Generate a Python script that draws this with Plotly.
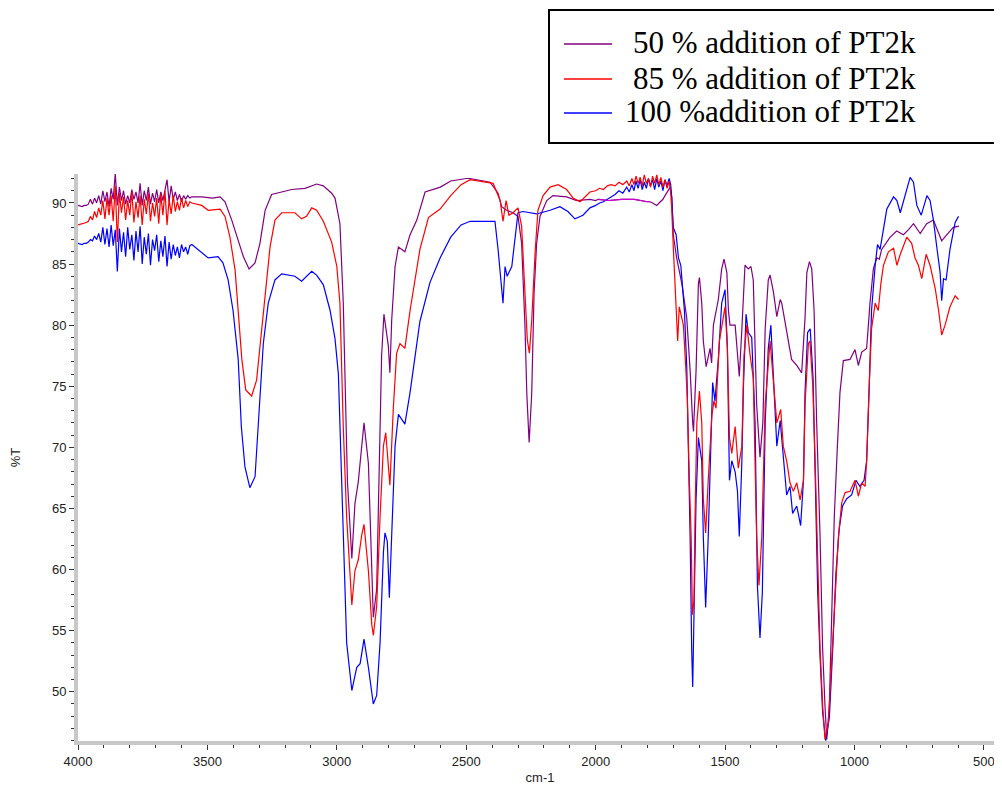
import plotly.graph_objects as go

# ---------------- data (wavenumber cm-1, %T) ----------------
wn_50 = [4000, 3984, 3976,
         3968, 3960, 3952, 3944, 3936, 3928, 3920, 3912, 3904, 3896, 3888, 3880, 3872, 3864, 3856, 3848,
         3840, 3832, 3824, 3816, 3808, 3800, 3792, 3784, 3776, 3768, 3760, 3752, 3744, 3736, 3728, 3720,
         3712, 3704, 3696, 3688, 3680, 3672, 3664, 3656, 3648, 3640, 3632, 3624, 3616, 3608, 3600, 3592,
         3584, 3576, 3568, 3560,
         3522, 3480, 3451, 3432, 3406, 3381, 3361, 3339, 3316, 3297, 3277, 3252, 3213, 3174, 3123, 3078,
         3052, 3020, 3007, 2988, 2975, 2968, 2959, 2942, 2930, 2917, 2904, 2895, 2878, 2872, 2865, 2859,
         2846, 2833, 2827, 2818, 2801, 2795, 2788, 2775, 2762, 2737, 2717, 2691, 2659, 2600, 2560, 2500,
         2485, 2408, 2377, 2363, 2344, 2319, 2300, 2286, 2273, 2266, 2257, 2247, 2238, 2228, 2215, 2189,
         2165, 2112, 2073, 2022, 2000, 1990, 1950, 1900, 1850, 1800, 1790, 1780, 1764, 1750, 1740, 1732, 1720, 1712,
         1706, 1700, 1687, 1667, 1648, 1635, 1625, 1622, 1612, 1603, 1599, 1590, 1584, 1573, 1565, 1558,
         1552, 1545, 1526, 1513, 1504, 1493, 1487, 1481, 1461, 1445, 1435, 1423, 1410, 1400, 1391, 1378,
         1365, 1354, 1345, 1333, 1326, 1313, 1300, 1287, 1281, 1262, 1243, 1223, 1204, 1191, 1184, 1174,
         1165, 1156, 1146, 1133, 1123, 1114, 1107, 1097, 1088, 1078, 1066, 1056, 1043, 1017, 998, 985,
         972, 953, 940, 927, 914, 904, 895, 882, 862, 837, 811, 792, 772, 746, 721, 695, 663, 643, 618, 596]
t_50 = [89.8, 89.7, 89.8,
        89.8, 89.9, 90.3, 89.9, 90.4, 90.0, 90.6, 89.9, 91.0, 90.1, 90.9, 89.7, 91.2, 90.3, 92.4, 89.8,
        91.3, 90.2, 91.0, 89.9, 90.6, 90.0, 91.1, 90.3, 90.9, 90.0, 91.6, 89.8, 91.0, 90.2, 91.3, 89.9,
        90.8, 90.1, 91.1, 90.0, 90.9, 90.2, 91.2, 91.9, 90.1, 91.4, 90.3, 90.9, 90.2, 90.7, 90.1, 90.6,
        90.3, 90.6, 90.4, 90.5,
        90.5, 90.4, 90.5, 90.1, 88.6, 87.0, 85.6, 84.6, 85.1, 86.7, 89.4, 90.7, 90.9, 91.1, 91.2, 91.55,
        91.4, 90.8, 90.4, 88.3, 81.8, 76.0, 67.2, 60.9, 65.4, 67.2, 70.1, 72.0, 68.7, 64.3, 59.9, 56.1,
        58.4, 70.1, 77.5, 80.9, 78.3, 76.1, 80.4, 84.8, 86.4, 86.0, 87.4, 88.6, 90.9, 91.3, 91.8, 92.0,
        92.0, 91.7, 90.8, 89.7, 89.4, 89.2, 88.9, 86.7, 79.9, 74.4, 70.4, 74.4, 82.6, 86.7, 88.9, 90.2,
        90.6, 90.5, 90.2, 90.3, 90.2, 90.3, 90.2, 90.3, 90.3, 90.1, 90.1, 90.0, 89.8, 90.1, 90.3, 90.6, 91.0, 91.3,
        90.5, 87.4, 85.5, 83.4, 80.6, 76.3, 72.0, 71.3, 76.3, 83.4, 83.9, 81.8, 78.7, 76.6, 77.4, 78.1,
        76.9, 80.0, 82.1, 84.6, 85.4, 84.3, 81.2, 80.0, 80.0, 75.8, 79.7, 84.9, 84.6, 84.8, 83.7, 73.5,
        69.2, 72.0, 79.7, 83.7, 84.1, 82.7, 80.7, 82.1, 81.8, 79.4, 77.2, 76.7, 76.1, 80.6, 84.3, 85.2,
        84.6, 81.2, 72.0, 62.7, 53.5, 48.9, 46.1, 48.9, 56.6, 64.3, 70.1, 74.5, 77.1, 77.2, 78.0, 76.7,
        77.8, 78.1, 81.8, 84.6, 85.5, 85.4, 86.2, 86.6, 87.2, 87.7, 87.4, 87.8, 88.3, 87.5, 88.3, 88.6,
        86.9, 87.4, 88.0, 88.1]

wn_85 = [4000, 3984, 3976,
         3968, 3960, 3952, 3944, 3936, 3928, 3920, 3912, 3904, 3896, 3888, 3880, 3872, 3864, 3856, 3848,
         3840, 3832, 3824, 3816, 3808, 3800, 3792, 3784, 3776, 3768, 3760, 3752, 3744, 3736, 3728, 3720,
         3712, 3704, 3696, 3688, 3680, 3672, 3664, 3656, 3648, 3640, 3632, 3624, 3616, 3608, 3600, 3592,
         3584, 3576, 3568, 3560,
         3522, 3497, 3451, 3432, 3413, 3393, 3381, 3367, 3352, 3329, 3310, 3297, 3277, 3258, 3239, 3213,
         3162, 3136, 3117, 3097, 3078, 3052, 3020, 3000, 2988, 2981, 2975, 2962, 2942, 2930, 2917, 2904,
         2895, 2878, 2865, 2859, 2846, 2833, 2820, 2811, 2801, 2795, 2782, 2769, 2756, 2737, 2717, 2679,
         2646, 2601, 2560, 2520, 2485, 2396, 2369, 2358, 2346, 2335, 2319, 2300, 2286, 2273, 2264, 2256,
         2247, 2234, 2223, 2203, 2176, 2145, 2112, 2087, 2060, 2022,
         2000, 1985, 1970, 1955, 1940, 1925, 1910, 1895, 1880, 1870, 1860, 1852, 1844, 1836, 1828, 1820,
         1812, 1804, 1796, 1788, 1780, 1772, 1764, 1756, 1748, 1740, 1732, 1724, 1716, 1710,
         1706, 1700, 1696, 1689, 1683, 1677, 1667, 1661, 1652, 1646, 1638, 1631, 1626, 1620, 1616, 1609,
         1599, 1590, 1584, 1575, 1565, 1558, 1551, 1543, 1535, 1522, 1509, 1500, 1491, 1483, 1474, 1461,
         1449, 1435, 1427, 1416, 1403, 1391, 1378, 1369, 1358, 1345, 1326, 1313, 1300, 1285, 1275, 1262,
         1249, 1236, 1223, 1210, 1197, 1191, 1178, 1172, 1161, 1152, 1142, 1133, 1123, 1114, 1101, 1088,
         1075, 1062, 1049, 1036, 1017, 998, 985, 972, 959, 953, 943, 934, 920, 908, 898, 888, 869, 849,
         836, 823, 798, 779, 766, 753, 740, 723, 708, 688, 675, 663, 650, 631, 611, 598]
t_85 = [88.2, 88.3, 88.3,
        88.4, 88.5, 88.9, 88.6, 89.3, 88.8, 89.6, 89.0, 90.2, 88.7, 90.4, 89.0, 90.6, 88.5, 91.4, 86.8,
        90.8, 89.2, 90.5, 88.6, 90.2, 89.0, 90.9, 88.4, 90.1, 88.8, 90.6, 88.2, 90.3, 89.1, 90.8, 88.5,
        90.0, 88.9, 90.4, 88.3, 90.7, 89.0, 91.0, 88.2, 90.3, 89.1, 90.6, 89.3, 90.1, 89.4, 90.4, 89.6,
        90.2, 89.7, 90.1, 90.0,
        89.8, 89.4, 89.5, 88.9, 87.2, 84.5, 81.2, 77.2, 74.7, 74.2, 75.5, 78.2, 82.6, 86.4, 88.6, 89.2,
        89.2, 88.7, 88.9, 89.6, 89.4, 88.5, 86.8, 84.8, 81.8, 76.0, 71.6, 64.3, 57.1, 59.9, 60.8, 62.8,
        63.7, 59.9, 55.5, 54.6, 57.0, 64.3, 70.1, 71.2, 68.7, 66.9, 73.1, 77.7, 78.5, 78.1, 81.2, 86.2,
        88.8, 89.5, 90.6, 91.5, 91.9, 91.6, 90.2, 88.5, 90.2, 89.0, 89.2, 89.6, 88.1, 82.1, 78.8, 77.7,
        80.4, 85.9, 89.4, 90.6, 91.3, 91.5, 91.1, 90.4, 90.1, 90.9,
        91.0, 91.2, 91.1, 91.4, 91.5, 91.4, 91.7, 91.5, 91.8, 91.4, 92.0, 91.5, 92.2, 91.6, 92.1, 91.4,
        92.3, 91.6, 92.0, 91.3, 92.2, 91.6, 92.3, 91.5, 92.1, 91.3, 91.9, 91.2, 91.8, 90.8,
        89.5, 86.4, 84.3, 81.2, 78.7, 81.5, 80.6, 80.0, 76.6, 74.1, 67.3, 62.7, 56.3, 57.5, 64.3, 72.0,
        74.6, 72.0, 65.8, 63.0, 67.3, 69.8, 72.6, 73.8, 73.2, 78.7, 80.6, 81.5, 78.1, 70.8, 69.5, 71.7,
        68.3, 70.1, 77.5, 80.0, 77.5, 75.7, 62.7, 58.7, 62.7, 73.5, 78.7, 75.0, 72.0, 73.1, 70.1, 68.9,
        67.1, 66.4, 67.1, 65.7, 67.3, 73.5, 78.5, 78.7, 75.0, 68.9, 59.6, 53.5, 48.9, 46.1, 47.4, 52.6,
        58.1, 62.7, 65.5, 66.3, 66.4, 67.3, 66.0, 67.1, 66.8, 68.9, 75.0, 79.7, 81.8, 81.2, 83.4, 84.9,
        86.0, 86.3, 84.9, 85.8, 87.2, 86.7, 85.5, 84.9, 83.8, 85.8, 84.9, 83.0, 81.2, 79.2, 80.0, 81.5,
        82.4, 82.1]

wn_100 = [4000, 3984, 3976,
          3968, 3960, 3952, 3944, 3936, 3928, 3920, 3912, 3904, 3896, 3888, 3880, 3872, 3864, 3856, 3848,
          3840, 3832, 3824, 3816, 3808, 3800, 3792, 3784, 3776, 3768, 3760, 3752, 3744, 3736, 3728, 3720,
          3712, 3704, 3696, 3688, 3680, 3672, 3664, 3656, 3648, 3640, 3632, 3624, 3616, 3608, 3600, 3592,
          3584, 3576, 3568, 3560,
          3522, 3497, 3459, 3440, 3420, 3401, 3381, 3369, 3355, 3336, 3316, 3304, 3284, 3265, 3239, 3213,
          3162, 3136, 3110, 3097, 3078, 3052, 3026, 3007, 2994, 2985, 2975, 2968, 2962, 2942, 2923, 2910,
          2895, 2878, 2859, 2846, 2833, 2820, 2814, 2805, 2797, 2788, 2775, 2762, 2737, 2717, 2679, 2640,
          2601, 2560, 2520, 2485, 2389, 2377, 2363, 2358, 2350, 2342, 2324, 2311, 2300, 2281, 2228, 2176,
          2138, 2107, 2080, 2049, 2022,
          2000, 1985, 1970, 1955, 1940, 1925, 1910, 1895, 1880, 1870, 1860, 1852, 1844, 1836, 1828, 1820,
          1812, 1804, 1796, 1788, 1780, 1772, 1764, 1756, 1748, 1740, 1732, 1724, 1716, 1710,
          1706, 1700, 1689, 1680, 1671, 1663, 1657, 1648, 1642, 1635, 1629, 1625, 1619, 1612, 1603, 1590,
          1584, 1575, 1565, 1556, 1548, 1539, 1526, 1513, 1500, 1491, 1483, 1474, 1461, 1452, 1445, 1435,
          1429, 1419, 1410, 1397, 1384, 1375, 1365, 1356, 1345, 1333, 1323, 1313, 1300, 1287, 1275, 1262,
          1249, 1239, 1223, 1208, 1197, 1191, 1181, 1171, 1160, 1152, 1142, 1133, 1123, 1111, 1097, 1084,
          1072, 1059, 1046, 1030, 1011, 994, 979, 963, 953, 943, 934, 920, 911, 901, 891, 875, 849, 836,
          823, 804, 785, 772, 759, 742, 720, 708, 695, 682, 669, 663, 656, 646, 631, 611, 598]
t_100 = [86.7, 86.6, 86.7,
         86.7, 86.8, 87.0, 86.9, 87.3, 87.0, 87.5, 86.8, 88.0, 86.6, 87.9, 86.4, 88.2, 86.5, 87.8, 84.4,
         87.9, 86.0, 87.6, 85.6, 88.0, 86.2, 87.4, 85.3, 87.7, 86.0, 88.1, 85.0, 87.2, 85.8, 87.5, 84.9,
         87.0, 86.1, 87.4, 85.2, 86.9, 85.6, 87.3, 84.8, 86.8, 85.4, 86.6, 85.7, 86.4, 85.5, 86.6, 86.0,
         86.4, 85.8, 86.5, 86.6,
         85.9, 85.5, 85.6, 85.1, 83.7, 81.2, 77.2, 71.7, 68.4, 66.7, 67.6, 71.7, 78.5, 81.8, 83.7, 84.2,
         84.0, 83.6, 84.1, 84.4, 84.1, 83.3, 81.2, 78.9, 76.0, 70.1, 64.3, 58.4, 54.0, 50.1, 52.0, 52.3,
         54.3, 52.0, 49.0, 49.7, 54.0, 61.4, 63.0, 62.3, 57.7, 62.8, 70.1, 72.7, 71.9, 74.5, 80.3, 83.5,
         85.5, 87.2, 88.2, 88.5, 88.5, 86.2, 82.6, 81.8, 84.8, 84.0, 84.8, 87.0, 89.2, 89.3, 89.1, 89.4,
         89.7, 89.3, 88.7, 89.0, 89.6,
         89.8, 90.0, 90.1, 90.3, 90.5, 90.7, 91.0, 90.8, 91.3, 90.9, 91.5, 91.0, 91.8, 91.2, 91.9, 91.1,
         91.7, 91.2, 92.0, 91.4, 91.9, 91.1, 92.0, 91.3, 91.8, 91.0, 91.9, 91.4, 92.0, 91.5,
         90.4, 88.0, 87.4, 85.5, 84.9, 83.0, 81.2, 76.6, 70.4, 62.7, 53.5, 50.4, 57.5, 65.8, 70.8, 68.9,
         62.7, 56.9, 62.7, 70.4, 75.3, 73.8, 77.2, 81.8, 82.9, 78.1, 67.3, 68.9, 68.0, 66.4, 62.7, 68.9,
         75.0, 80.9, 79.4, 79.0, 72.0, 58.7, 54.4, 58.1, 72.0, 78.1, 80.0, 75.7, 70.1, 72.2, 68.9, 66.1,
         66.8, 64.6, 65.2, 63.6, 67.3, 74.5, 79.4, 79.7, 75.7, 68.3, 58.1, 52.9, 48.3, 46.0, 47.9, 53.5,
         59.6, 63.3, 65.2, 65.8, 66.1, 67.3, 66.8, 67.3, 68.9, 75.0, 81.2, 84.9, 86.6, 86.2, 87.4, 89.5,
         90.5, 90.2, 89.2, 90.7, 92.1, 91.7, 89.8, 89.0, 90.6, 90.2, 88.6, 86.4, 84.3, 82.0, 83.8, 83.7,
         86.2, 88.4, 88.9]

series_names = ["50 % addition of PT2k", "85 % addition of PT2k", "100 %addition of PT2k"]
series_colors = ["#800080", "#ff0000", "#0000ff"]
highlight_color = "#cc00cc"        # lighter stretch of the 50 % trace
highlight_window = (1790, 1990)    # cm-1 range of that lighter stretch

x_ticks = [4000, 3500, 3000, 2500, 2000, 1500, 1000, 500]
y_ticks = [50, 55, 60, 65, 70, 75, 80, 85, 90]

# ---------------- figure ----------------
OFF = 8  # page body margin in the browser
W, H = 1002 - OFF, 789 - OFF
ML, MR, MT, MB = 78 - OFF, 0, 174 - OFF, 48
PW, PH = W - ML - MR, H - MT - MB

fig = go.Figure()
data = [(wn_50, t_50, 0), (wn_100, t_100, 2), (wn_85, t_85, 1)]
for wn, t, i in data:
    fig.add_trace(go.Scatter(
        x=wn, y=t, mode="lines", name=series_names[i],
        line=dict(color=series_colors[i], width=1.2),
        showlegend=False,
    ))

# lighter stretch of the 50 % curve (as seen in the original export)
lo, hi = highlight_window
seg = [(w, t) for w, t in zip(wn_50, t_50) if lo <= w <= hi]
fig.add_trace(go.Scatter(
    x=[w for w, _ in seg], y=[t for _, t in seg], mode="lines",
    line=dict(color=highlight_color, width=1.2), showlegend=False, hoverinfo="skip",
))

axis_common = dict(
    showgrid=False, zeroline=False, showline=True, linecolor="#c8c8c8", linewidth=4,
    ticks="outside", ticklen=5, tickwidth=1, tickcolor="#333333", automargin=False,
    tickfont=dict(family="Liberation Sans, Arial, sans-serif", size=13, color="#222222"),
)


def px_x(px):
    return (px - OFF - ML) / PW


def px_y(py):
    return 1 - (py - OFF - MT) / PH


# hand-built legend box (paper coordinates derived from the pixel layout)
shapes = [dict(type="rect", xref="paper", yref="paper",
               x0=px_x(549), x1=px_x(1000), y0=px_y(143), y1=px_y(10),
               line=dict(color="black", width=2), fillcolor="white", layer="above")]
annotations = []
legend_rows = [43, 78, 112]
for i, row in enumerate(legend_rows):
    shapes.append(dict(type="line", xref="paper", yref="paper",
                       x0=px_x(564), x1=px_x(612), y0=px_y(row + 1), y1=px_y(row + 1),
                       line=dict(color=series_colors[i], width=1.5), layer="above"))
    annotations.append(dict(text=series_names[i], xref="paper", yref="paper",
                            x=px_x(918), y=px_y(row), xanchor="right", yanchor="middle",
                            showarrow=False,
                            font=dict(family="Liberation Serif, Times New Roman, serif", size=31, color="black")))

fig.update_layout(
    width=W, height=H,
    paper_bgcolor="white", plot_bgcolor="white",
    margin=dict(l=ML, r=MR, t=MT, b=MB, autoexpand=False),
    xaxis=dict(range=[4000, 430], tickvals=x_ticks,
               minor=dict(dtick=100, ticks="outside", ticklen=3, tickcolor="#333333"),
               title=dict(text="cm-1", font=dict(family="Liberation Sans, Arial, sans-serif", size=13, color="#222222"), standoff=6),
               **axis_common),
    yaxis=dict(range=[45.97, 92.37], tickvals=y_ticks,
               minor=dict(dtick=1, ticks="outside", ticklen=3, tickcolor="#333333"),
               title=dict(text="%T", font=dict(family="Liberation Sans, Arial, sans-serif", size=13, color="#222222"), standoff=30),
               **axis_common),
    showlegend=False,
    shapes=shapes,
    annotations=annotations,
)

fig.write_html("out.html")
